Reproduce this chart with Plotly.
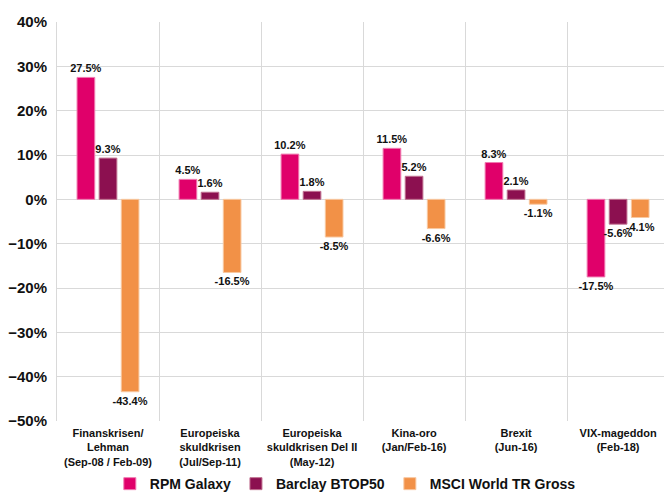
import plotly.graph_objects as go

# crisis periods
kriser = ['Finanskrisen/<br>Lehman<br>(Sep-08 / Feb-09)',
          'Europeiska<br>skuldkrisen<br>(Jul/Sep-11)',
          'Europeiska<br>skuldkrisen Del II<br>(May-12)',
          'Kina-oro<br>(Jan/Feb-16)',
          'Brexit<br>(Jun-16)',
          'VIX-mageddon<br>(Feb-18)']

rpm_galaxy = [27.5, 4.5, 10.2, 11.5, 8.3, -17.5]
barclay_btop50 = [9.3, 1.6, 1.8, 5.2, 2.1, -5.6]
msci_world = [-43.4, -16.5, -8.5, -6.6, -1.1, -4.1]

serier = [('RPM Galaxy', rpm_galaxy, '#E0006A', '#F07AB0'),
          ('Barclay BTOP50', barclay_btop50, '#8C1050', '#C07090'),
          ('MSCI World TR Gross', msci_world, '#F29147', '#F8C8A0')]

x = list(range(len(kriser)))

fig = go.Figure()
for namn, vals, farg, kant in serier:
    fig.add_trace(go.Bar(
        x=x, y=vals, name=namn,
        marker=dict(color=farg, line=dict(color=kant, width=1)),
        texttemplate='%{y:.1f}%', textposition='outside', constraintext='none',
        textfont=dict(family='Liberation Sans', size=11, color='#111111', weight='bold'),
        cliponaxis=False,
    ))

fig.update_layout(
    width=664, height=493,
    margin=dict(l=57, r=0, t=22, b=72, autoexpand=False),
    plot_bgcolor='white', paper_bgcolor='white',
    barmode='group', bargap=0.35, bargroupgap=0.2,
    font=dict(family='Liberation Sans', color='#111111'),
    legend=dict(orientation='h', x=0.475, xanchor='center', y=-0.158, yanchor='middle',
                font=dict(size=14, weight='bold'), itemwidth=30, tracegroupgap=0),
)

fig.update_xaxes(
    range=[-0.5, 5.45], tickvals=x, ticktext=kriser, automargin=False,
    tickfont=dict(family='Liberation Sans Narrow, Liberation Sans', size=11, weight='bold'),
    showgrid=False, zeroline=False, ticks='', ticklen=0, ticklabelstandoff=4,
    minor=dict(tick0=-0.5, dtick=1, showgrid=True, gridcolor='#D9D9D9', gridwidth=1),
)

fig.update_yaxes(
    range=[-50, 40], dtick=10, ticksuffix='%', automargin=False,
    tickfont=dict(size=15, weight='bold'),
    showgrid=True, gridcolor='#D9D9D9', gridwidth=1,
    zeroline=True, zerolinecolor='#D9D9D9', zerolinewidth=1,
    showline=True, linecolor='#D9D9D9', linewidth=1,
    ticks='', ticklabelstandoff=6,
)

# drop the default body margin so the figure fills the window
fig.write_html('out.html', config={'displayModeBar': False},
               post_script="document.body.style.margin='0';")
